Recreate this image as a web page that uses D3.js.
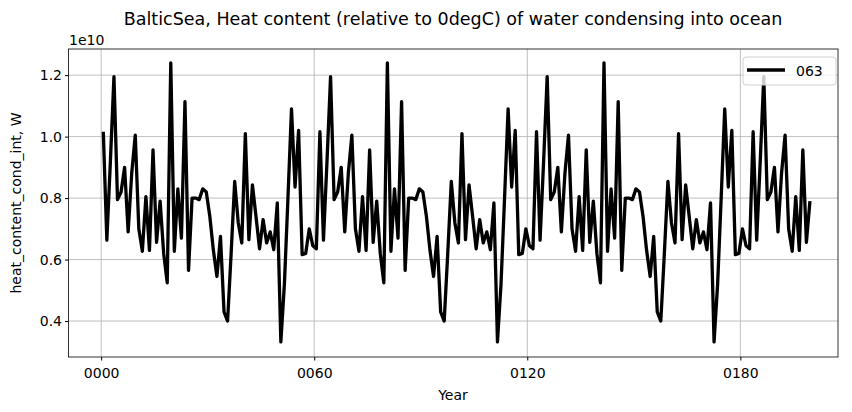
<!DOCTYPE html><html><head><script src="https://d3js.org/d3.v7.min.js"></script>
<style>body{margin:0;background:#fff}text{font-family:"DejaVu Sans",sans-serif}</style></head><body>
<svg id="c" width="852" height="412"></svg>
<script>
const yTicks=[0.4,0.6,0.8,1.0,1.2];
const xTicks=[0,60,120,180];
const seriesName="063";
const values=[
1.016,0.663,0.92,1.195,0.795,0.82,0.90,0.69,0.88,1.005,0.70,0.627,0.805,0.63,0.957,0.656,0.79,0.62,0.524,1.24,0.627,0.83,0.67,1.114,0.565,0.80,0.80,0.795,0.83,0.82,0.74,0.63,0.545,0.675,0.43,0.40,0.62,0.854,0.72,0.654,1.01,0.665,0.843,0.74,0.635,0.73,0.654,0.69,0.632,0.784,0.332,0.52,0.80,1.09,0.836,1.02,0.616,0.62,0.70,0.645,0.635,
1.016,0.663,0.92,1.195,0.795,0.82,0.90,0.69,0.88,1.005,0.70,0.627,0.805,0.63,0.957,0.656,0.79,0.62,0.524,1.24,0.627,0.83,0.67,1.114,0.565,0.80,0.80,0.795,0.83,0.82,0.74,0.63,0.545,0.675,0.43,0.40,0.62,0.854,0.72,0.654,1.01,0.665,0.843,0.74,0.635,0.73,0.654,0.69,0.632,0.784,0.332,0.52,0.80,1.09,0.836,1.02,0.616,0.62,0.70,0.645,0.635,
1.016,0.663,0.92,1.195,0.795,0.82,0.90,0.69,0.88,1.005,0.70,0.627,0.805,0.63,0.957,0.656,0.79,0.62,0.524,1.24,0.627,0.83,0.67,1.114,0.565,0.80,0.80,0.795,0.83,0.82,0.74,0.63,0.545,0.675,0.43,0.40,0.62,0.854,0.72,0.654,1.01,0.665,0.843,0.74,0.635,0.73,0.654,0.69,0.632,0.784,0.332,0.52,0.80,1.09,0.836,1.02,0.616,0.62,0.70,0.645,0.635,
1.016,0.663,0.92,1.195,0.795,0.82,0.90,0.69,0.88,1.005,0.70,0.627,0.805,0.63,0.957,0.656,0.79];
const years=values.map((v,i)=>i+0.6);

const L=68.5,R=838,T=49,B=357;
const svg=d3.select("#c");
const x=d3.scaleLinear().domain([-9.2,207.5]).range([L,R]);
const y=d3.scaleLinear().domain([0.283,1.285]).range([B,T]);
const g=svg.append("g");
g.selectAll(".gx").data(xTicks).join("line").attr("x1",d=>x(d)).attr("x2",d=>x(d)).attr("y1",T).attr("y2",B).attr("stroke","#b0b0b0").attr("stroke-width",0.8);
g.selectAll(".gy").data(yTicks).join("line").attr("y1",d=>y(d)).attr("y2",d=>y(d)).attr("x1",L).attr("x2",R).attr("stroke","#b0b0b0").attr("stroke-width",0.8);
const xa=svg.append("g").attr("transform",`translate(0,${B})`).call(d3.axisBottom(x).tickValues(xTicks).tickFormat(d=>String(d).padStart(4,"0")).tickSize(3.5).tickSizeOuter(0));
const ya=svg.append("g").attr("transform",`translate(${L},0)`).call(d3.axisLeft(y).tickValues(yTicks).tickFormat(d3.format(".1f")).tickSize(3.5).tickSizeOuter(0));
[xa,ya].forEach(a=>{a.selectAll("text").attr("font-size",14).attr("fill","#000").attr("font-family","DejaVu Sans");a.select(".domain").remove();});
xa.selectAll("text").attr("dy","1.05em");
svg.append("rect").attr("x",L).attr("y",T).attr("width",R-L).attr("height",B-T).attr("fill","none").attr("stroke","#000").attr("stroke-width",0.8);
svg.append("path").datum(values).attr("fill","none").attr("stroke","#000").attr("stroke-width",3.3).attr("stroke-linejoin","round")
 .attr("d",d3.line().x((d,i)=>x(years[i])).y(d=>y(d)));
svg.append("text").attr("x",453).attr("y",25).attr("text-anchor","middle").attr("font-size",17.5).text("BalticSea, Heat content (relative to 0degC) of water condensing into ocean");
svg.append("text").attr("x",69).attr("y",45).attr("font-size",14).text("1e10");
svg.append("text").attr("x",453).attr("y",400).attr("text-anchor","middle").attr("font-size",14).text("Year");
svg.append("text").attr("transform","translate(21,203) rotate(-90)").attr("text-anchor","middle").attr("font-size",14).text("heat_content_cond_int, W");
const lg=svg.append("g");
lg.append("rect").attr("x",743).attr("y",57).attr("width",93).attr("height",28).attr("rx",3).attr("fill","#fff").attr("fill-opacity",0.8).attr("stroke","#d0d0d0");
lg.append("line").attr("x1",747).attr("x2",785).attr("y1",70).attr("y2",70).attr("stroke","#000").attr("stroke-width",3.3);
lg.append("text").attr("x",796).attr("y",76).attr("font-size",14).text(seriesName);
</script></body></html>
